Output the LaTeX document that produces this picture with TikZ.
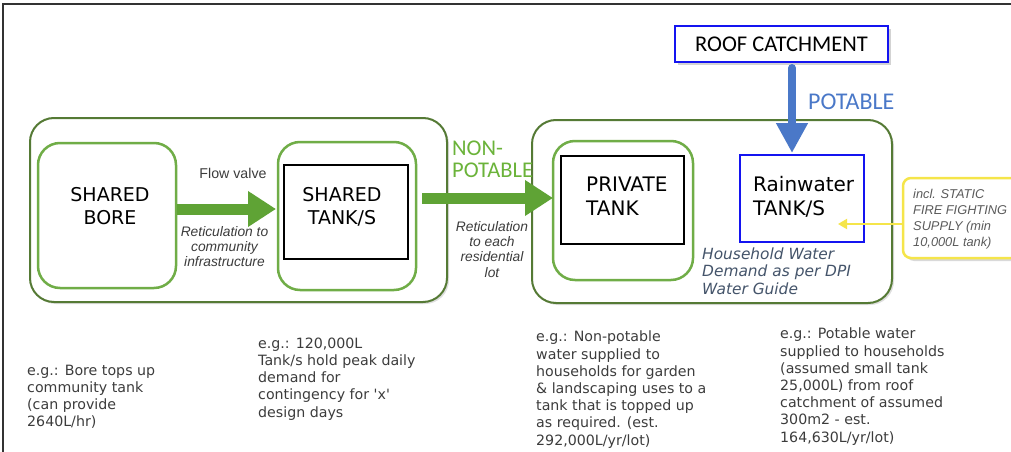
\documentclass[tikz,border=0pt]{standalone}
\usepackage{fontspec}
\setmainfont{DejaVu Sans}
\newfontfamily\arialf{Liberation Sans}
\newfontfamily\calf{Carlito}
\usetikzlibrary{arrows.meta,shadows}
\newcommand\fsz[2]{\fontsize{#1}{#2}\selectfont}
\definecolor{dgreen}{HTML}{557A35}
\definecolor{lgreen}{HTML}{70AD47}
\definecolor{agreen}{HTML}{5FA335}
\definecolor{ngreen}{HTML}{6BB33A}
\definecolor{rblue}{HTML}{1414F0}
\definecolor{ablue}{HTML}{4A78C8}
\definecolor{hhtext}{HTML}{44546A}
\definecolor{ylw}{HTML}{F5E54A}
\definecolor{bodytext}{HTML}{3C3C3C}
\definecolor{firetext}{HTML}{5A5A5A}
\tikzset{
  groupbox/.style={draw=dgreen, line width=2pt, rounded corners=24pt, fill=white, outer sep=0pt,
    drop shadow={shadow xshift=2pt, shadow yshift=-2pt, opacity=0.25}},
  greenbox/.style={draw=lgreen, line width=2.5pt, rounded corners=22pt, fill=white, outer sep=0pt},
  blackbox/.style={draw=black, line width=2.5pt, fill=white, outer sep=0pt},
  bluebox/.style={draw=rblue, line width=2.5pt, fill=white, outer sep=0pt},
  firebox/.style={draw=ylw, line width=2.5pt, rounded corners=8pt, fill=white, outer sep=0pt,
    drop shadow={shadow xshift=3pt, shadow yshift=-3pt, opacity=0.3}},
  roofbox/.style={draw=rblue, line width=2.5pt, fill=white, outer sep=0pt,
    drop shadow={shadow xshift=3pt, shadow yshift=-3pt, opacity=0.35}},
  bigtext/.style={font=\fsz{19}{23}, align=center, inner sep=0pt},
  bigleft/.style={font=\fsz{20}{23.5}, align=left, inner sep=0pt, anchor=north west},
  bodyblock/.style={font=\fsz{14.2}{17.2}, text=bodytext, align=left, inner sep=0pt, anchor=north west},
  italnote/.style={font=\arialf\itshape\fsz{13.8}{15.3}, text=bodytext, align=center, inner sep=0pt, anchor=north},
  garrow/.style={draw=agreen, line width=11pt, -{Triangle[length=28pt,width=34pt]}},
  barrow/.style={draw=ablue, line width=8pt, line cap=round, -{Triangle[length=30pt,width=30pt]}},
  yarrow/.style={draw=ylw, line width=2pt, -{Triangle[length=9pt,width=10pt]}}
}
\begin{document}
\begin{tikzpicture}[x=1pt,y=-1pt]
\useasboundingbox (0,0) rectangle (1011,452);
% page frame
\draw[line width=2.5pt, black!80] (3,452) -- (3,4) -- (1011,4);

% groups
\node[groupbox, minimum width=417pt, minimum height=184pt] (leftgroup) at (238.5,210) {};
\node[groupbox, minimum width=360pt, minimum height=183pt] (rightgroup) at (712,211.5) {};

% left group content
\node[greenbox, minimum width=138pt, minimum height=145pt] (bore) at (107,215.5) {};
\node[bigtext] (boretxt) at (110,206) {SHARED\\BORE};
\node[greenbox, minimum width=138pt, minimum height=148pt] (tankout) at (347,216) {};
\node[blackbox, minimum width=124pt, minimum height=94pt] (tankin) at (346,212) {};
\node[bigtext] (tanktxt) at (342,206.5) {SHARED\\TANK/S};

% right group content
\node[greenbox, minimum width=140pt, minimum height=139pt] (privout) at (623,210.5) {};
\node[blackbox, minimum width=123pt, minimum height=88pt] (privin) at (622.5,200) {};
\node[bigleft] (privtxt) at (586,177) {PRIVATE\\TANK};
\node[bluebox, minimum width=124pt, minimum height=87pt] (rain) at (802,198.5) {};
\node[bigleft] (raintxt) at (753,176.5) {Rainwater\\TANK/S};
\node[font=\itshape\fsz{15.4}{17.3}, text=hhtext, align=left, inner sep=0pt, anchor=north west]
  (household) at (702,247.5) {Household Water\\Demand as per DPI\\Water Guide};

% roof catchment
\node[roofbox, minimum width=213pt, minimum height=36pt, font=\calf\fsz{22.5}{26}] (roof) at (781.5,44) {ROOF CATCHMENT};
\node[font=\calf\fsz{24}{28}, text=ablue, inner sep=0pt, anchor=base west] (potable) at (808,109) {POTABLE};

% fire fighting callout
\node[firebox, minimum width=132pt, minimum height=80pt] (fire) at (969,218) {};
\node[font=\arialf\itshape\fsz{12.8}{16}, text=firetext, align=left, inner sep=0pt, anchor=north west]
  (firetxt) at (913,189.5) {incl. STATIC\\FIRE FIGHTING\\SUPPLY (min\\10,000L tank)};

% arrow labels
\node[font=\arialf\fsz{14.2}{16}, text=bodytext, inner sep=0pt, anchor=base] (flowvalve) at (233,178) {Flow valve};
\node[italnote] (ret1) at (224.5,226) {Reticulation to\\community\\infrastructure};
\node[italnote] (ret2) at (492,221) {Reticulation\\to each\\residential\\lot};
\node[font=\calf\fsz{22.5}{22}, text=ngreen, align=left, inner sep=0pt, anchor=north west] (nonpot) at (452,140.5) {NON-\\POTABLE};

% connectors
\coordinate (a1) at ([xshift=1pt,yshift=6.5pt]bore.east);
\draw[garrow, shorten >=2pt] (a1) -- (a1 -| tankout.west);
\coordinate (a2) at ([xshift=6pt,yshift=18pt]tankout.east);
\draw[garrow] (a2) -- (a2 -| privout.west);
\coordinate (a3) at ([xshift=10.5pt,yshift=-6pt]roof.south);
\draw[barrow, shorten >=2pt] (a3) -- (a3 |- rain.north);
\coordinate (a4) at ([yshift=-6pt]fire.west);
\coordinate (a4end) at ([xshift=-26pt]a4 -| rain.east);
\draw[yarrow] (a4) -- (a4end);

% bottom notes
\node[bodyblock] (note1) at (27,364.5) {e.g.: Bore tops up\\community tank\\(can provide\\2640L/hr)};
\node[bodyblock] (note2) at (258,337.5) {e.g.: 120,000L\\Tank/s hold peak daily\\demand for\\contingency for \textquotesingle x\textquotesingle\\design days};
\node[bodyblock] (note3) at (536,331) {e.g.: Non-potable\\water supplied to\\households for garden\\\& landscaping uses to a\\tank that is topped up\\as required. (est.\\292,000L/yr/lot)};
\node[bodyblock] (note4) at (780,328) {e.g.: Potable water\\supplied to households\\(assumed small tank\\25,000L) from roof\\catchment of assumed\\300m2 - est.\\164,630L/yr/lot)};
\end{tikzpicture}
\end{document}
